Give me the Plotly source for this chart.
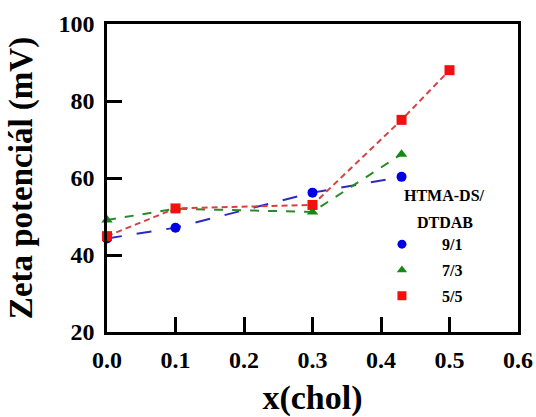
import plotly.graph_objects as go

x_91 = [0.0, 0.1, 0.3, 0.43]
y_91 = [44.3, 47.1, 56.2, 60.3]
x_73 = [0.0, 0.1, 0.3, 0.43]
y_73 = [49.1, 52.0, 51.2, 66.2]
x_55 = [0.0, 0.1, 0.3, 0.43, 0.5]
y_55 = [44.9, 52.1, 53.0, 75.1, 88.0]

names = ["9/1", "7/3", "5/5"]
legend_title_lines = ["HTMA-DS/", "DTDAB"]
line_colors = ["#2b2bc0", "#2a8a2a", "#d84040"]
marker_colors = ["#0000e6", "#138a13", "#f01010"]
symbols = ["circle", "triangle-up", "square"]
dashes = ["longdash", "dash", "6px,4px"]

x_ticks = [0.0, 0.1, 0.2, 0.3, 0.4, 0.5, 0.6]
x_tick_labels = ["0.0", "0.1", "0.2", "0.3", "0.4", "0.5", "0.6"]
y_ticks = [20, 40, 60, 80, 100]

FONT = "Liberation Serif, Times New Roman, serif"

fig = go.Figure()
series = [(x_91, y_91), (x_73, y_73), (x_55, y_55)]
for i, (xs, ys) in enumerate(series):
    fig.add_trace(go.Scatter(
        x=xs, y=ys, mode="lines+markers", showlegend=False,
        line=dict(color=line_colors[i], width=2, dash=dashes[i]),
        marker=dict(color=marker_colors[i], symbol=symbols[i], size=10),
        cliponaxis=False,
    ))
for i in range(3):
    fig.add_trace(go.Scatter(
        x=[None], y=[None], mode="markers",
        name="\u00a0" * 5 + names[i], legendgroup=names[i],
        marker=dict(color=marker_colors[i], symbol=symbols[i], size=9),
    ))

axis_common = dict(
    showline=True, linecolor="black", linewidth=2.5, mirror=True,
    ticks="inside", ticklen=15, tickwidth=2.5, tickcolor="black",
    showgrid=False, zeroline=False, automargin=False,
    tickfont=dict(family=FONT, size=24, color="black", weight="bold"),
)

fig.update_layout(
    width=536, height=417,
    margin=dict(l=107, r=18, t=24, b=85),
    paper_bgcolor="white", plot_bgcolor="white",
    xaxis=dict(range=[0, 0.6], tickvals=x_ticks, ticktext=x_tick_labels,
               ticklabelstandoff=4,
               title=dict(text="x(chol)", standoff=24,
                          font=dict(family=FONT, size=34, color="black", weight="bold")),
               **axis_common),
    yaxis=dict(range=[20, 100], tickvals=y_ticks, ticklabelstandoff=5,
               title=dict(text="Zeta potenciál (mV)", standoff=16,
                          font=dict(family=FONT, size=33, color="black", weight="bold")),
               **axis_common),
    legend=dict(
        x=0.669, y=0.34, xanchor="left", yanchor="top",
        bgcolor="rgba(0,0,0,0)",
        font=dict(family=FONT, size=16, color="black", weight="bold"),
        itemwidth=30, tracegroupgap=2,
    ),
)

for j, line in enumerate(legend_title_lines):
    fig.add_annotation(
        text=line, xref="paper", yref="paper",
        x=0.822, y=1 - ((195 + 27 * j) - 24) / 308,
        xanchor="center", yanchor="middle", showarrow=False,
        font=dict(family=FONT, size=16, color="black", weight="bold"),
    )

fig.write_html(
    "out.html",
    config={"displayModeBar": False},
    post_script="document.body.style.margin='0';document.body.style.overflow='hidden';",
)
